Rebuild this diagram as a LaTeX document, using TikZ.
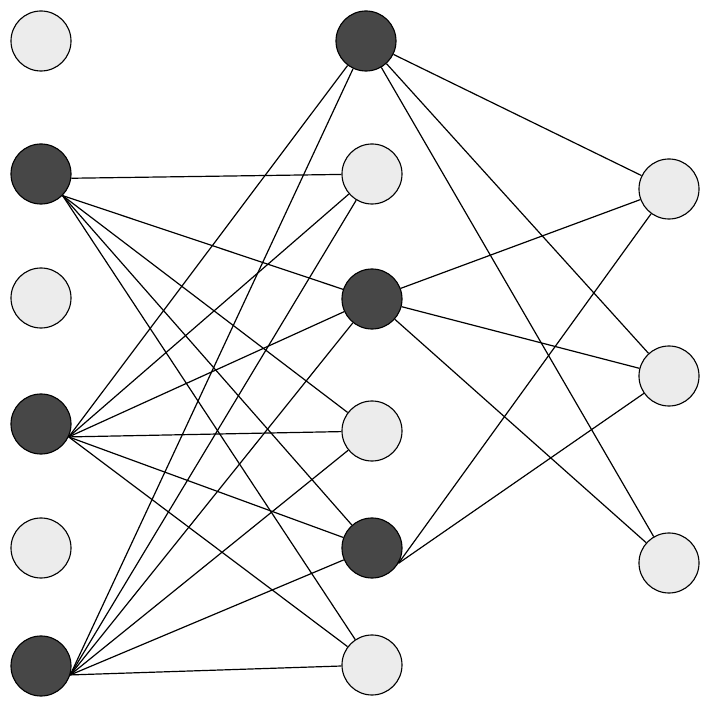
\documentclass[tikz,border=0pt]{standalone}
\usepackage{xcolor}
\usepackage{tikz}
\usetikzlibrary{positioning}
\definecolor{neurD}{HTML}{474747}
\definecolor{neurC}{HTML}{ECECEC}
\tikzset{
  neur/.style={circle, draw=black, line width=0.8pt, fill=#1,
               minimum size=1.5cm, inner sep=0pt},
  lien/.style={line width=0.85pt, draw=black},
}

\begin{document}
\begin{tikzpicture}[x=0.025cm, y=0.025cm]
  \useasboundingbox (0,0) rectangle (709,711);
  \foreach \i/\y/\c in {1/670/neurC, 2/537/neurD, 3/413/neurC, 4/287/neurD, 5/163/neurC, 6/45/neurD}
    \node[neur=\c] (e\i) at (41,\y) {};
  \foreach \i/\x/\y/\c in {1/366/670/neurD, 2/372/537/neurC, 3/372/412/neurD, 4/372/280/neurC, 5/372/163/neurD, 6/372/46/neurC}
    \node[neur=\c] (h\i) at (\x,\y) {};
  \foreach \i/\y in {1/522, 2/335, 3/148}
    \node[neur=neurC] (s\i) at (669,\y) {};

  \draw[lien] (e2.-8) -- (h2);
  \foreach \j in {3,...,6} \draw[lien] (e2.-45) -- (h\j);
  \foreach \j in {1,...,6} \draw[lien] (e4.-25) -- (h\j);
  \foreach \j in {1,...,6} \draw[lien] (e6.-17) -- (h\j);
  \foreach \j in {1,2,3} {
    \draw[lien] (h1) -- (s\j);
    \draw[lien] (h3) -- (s\j);
  }
  \draw[lien] (h5.-30) -- (s1);
  \draw[lien] (h5.-30) -- (s2);
\end{tikzpicture}
\end{document}
